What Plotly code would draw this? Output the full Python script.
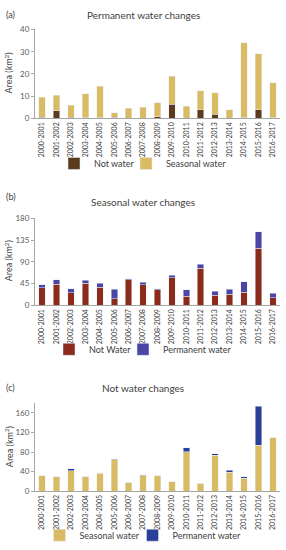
import plotly.graph_objects as go

years = ["2000-2001", "2001-2002", "2002-2003", "2003-2004", "2004-2005", "2005-2006",
         "2006-2007", "2007-2008", "2008-2009", "2009-2010", "2010-2011", "2011-2012",
         "2012-2013", "2013-2014", "2014-2015", "2015-2016", "2016-2017"]

# Panel (a) Permanent water changes
a_not_water = [0.5, 3.5, 0.5, 0.3, 0.3, 0.5, 0.1, 0.2, 0.8, 6.5, 0.2, 4.0, 2.0, 0.2, 0.3, 4.0, 0.3]
a_seasonal = [9.0, 7.0, 5.5, 10.7, 14.2, 2.0, 4.4, 4.8, 6.2, 12.5, 5.3, 8.5, 9.5, 3.8, 33.7, 25.0, 15.7]

# Panel (b) Seasonal water changes
b_not_water = [36, 44, 26, 46, 37, 14, 53, 42, 32, 57, 19, 77, 21, 23, 27, 118, 16]
b_permanent = [6, 9, 8, 6, 9, 19, 2, 6, 2, 5, 13, 8, 8, 10, 22, 34, 9]

# Panel (c) Not water changes
c_seasonal = [31, 29, 42, 29, 37, 64, 18, 32, 31, 19, 81, 16, 73, 39, 26, 94, 109]
c_permanent = [0.5, 0.3, 4, 0.3, 0.5, 1, 0.2, 0.3, 0.3, 0.3, 8, 0.3, 4, 4, 3, 80, 0.5]

FONT = "Lato, 'Open Sans', sans-serif"
BROWN = "#5c3b1c"
KHAKI = "#d8bb62"
RED_BROWN = "#8c2a1c"
PURPLE_BLUE = "#4a46a8"
DARK_BLUE = "#2a3f97"

fig = go.Figure()
fig.add_bar(x=years, y=a_not_water, name="Not water", marker_color=BROWN,
            xaxis="x", yaxis="y", legend="legend", legendwidth=27)
fig.add_bar(x=years, y=a_seasonal, name="Seasonal water", marker_color=KHAKI,
            xaxis="x", yaxis="y", legend="legend")
fig.add_bar(x=years, y=b_not_water, name="Not Water", marker_color=RED_BROWN,
            xaxis="x2", yaxis="y2", legend="legend2", legendwidth=29)
fig.add_bar(x=years, y=b_permanent, name="Permanent water", marker_color=PURPLE_BLUE,
            xaxis="x2", yaxis="y2", legend="legend2")
fig.add_bar(x=years, y=c_seasonal, name="Seasonal water", marker_color=KHAKI,
            xaxis="x3", yaxis="y3", legend="legend3", legendwidth=48)
fig.add_bar(x=years, y=c_permanent, name="Permanent water", marker_color=DARK_BLUE,
            xaxis="x3", yaxis="y3", legend="legend3")

W, H = 286, 550
def py(p):
    return 1 - p / H

xdom = [35 / W, 280 / W]
axcol = "#a6a6a6"
tickfont = dict(family=FONT, size=8, color="#595959")
xtickfont = dict(family=FONT, size=7, color="#404040")

def xax(anchor):
    return dict(type="category", domain=xdom, anchor=anchor, showline=True, linecolor=axcol,
                linewidth=1, tickangle=-90, tickfont=xtickfont, ticks="", showgrid=False,
                fixedrange=True, tickmode="array", tickvals=years, ticktext=years)

def yax(anchor, dom, rng, dtick):
    return dict(domain=dom, anchor=anchor, range=rng, dtick=dtick, showline=True,
                linecolor=axcol, linewidth=1, ticks="outside", ticklen=3, tickcolor=axcol,
                tickfont=tickfont, showgrid=False, zeroline=False, fixedrange=True)

leg_common = dict(orientation="h", xanchor="center", yanchor="middle",
                  font=dict(family=FONT, size=9, color="#404040"),
                  bgcolor="rgba(0,0,0,0)", traceorder="normal", itemwidth=30)

fig.update_layout(
    width=W, height=H, margin=dict(l=0, r=0, t=0, b=0),
    paper_bgcolor="white", plot_bgcolor="white",
    barmode="stack", bargap=0.55,
    showlegend=True,
    xaxis=xax("y"), yaxis=yax("x", [py(116), py(25)], [0, 40], 10),
    xaxis2=xax("y2"), yaxis2=yax("x2", [py(307), py(218)], [0, 180], 45),
    xaxis3=xax("y3"), yaxis3=yax("x3", [py(497), py(407)], [0, 180], 40),
    legend=dict(x=0.5, y=py(162), **leg_common),
    legend2=dict(x=0.5, y=py(352), **leg_common),
    legend3=dict(x=0.5, y=py(542), **leg_common),
)
fig.layout.yaxis3.tickvals = [0, 40, 80, 120, 160]
fig.layout.yaxis3.tickmode = "array"

ann = []
for txt, ypx in [("(a)", 10), ("(b)", 196), ("(c)", 391)]:
    ann.append(dict(text=txt, x=4 / W, y=py(ypx), xref="paper", yref="paper",
                    xanchor="left", yanchor="middle", showarrow=False,
                    font=dict(family=FONT, size=9, color="#404040")))
for txt, ypx in [("Permanent water changes", 10), ("Seasonal water changes", 201),
                 ("Not water changes", 392)]:
    ann.append(dict(text=txt, x=143 / W, y=py(ypx), xref="paper", yref="paper",
                    xanchor="center", yanchor="middle", showarrow=False,
                    font=dict(family=FONT, size=10, color="#404040")))
for ypx in [70, 262, 452]:
    ann.append(dict(text="Area (km<sup>2</sup>)", x=9 / W, y=py(ypx), xref="paper",
                    yref="paper", xanchor="center", yanchor="middle", textangle=-90,
                    showarrow=False, font=dict(family=FONT, size=9, color="#404040")))
fig.update_layout(annotations=ann)

fig.write_html("out.html", config={"displayModeBar": False},
               post_script="document.body.style.margin='0';document.body.style.overflow='hidden';")
